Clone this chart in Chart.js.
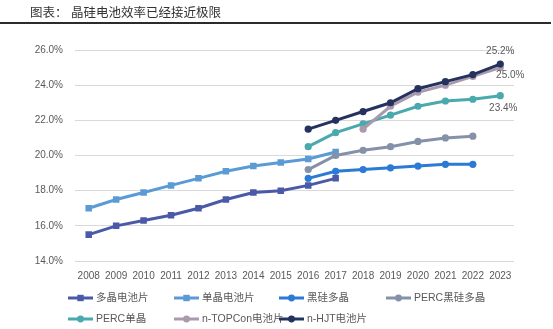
<!DOCTYPE html>
<html>
<head>
<meta charset="utf-8">
<script src="https://cdn.jsdelivr.net/npm/chart.js@4/dist/chart.umd.min.js"></script>
<style>
  html, body { margin: 0; padding: 0; background: #fff; }
  #wrap { width: 553px; height: 329px; position: relative; }
</style>
</head>
<body>
<div id="wrap"><canvas id="c" width="553" height="329"></canvas></div>
<script>
const TITLE = '图表： 晶硅电池效率已经接近极限';
const years = ['2008','2009','2010','2011','2012','2013','2014','2015','2016','2017','2018','2019','2020','2021','2022','2023'];
const yTicks = [14, 16, 18, 20, 22, 24, 26];

const polyCell   = [15.5, 16.0, 16.3, 16.6, 17.0, 17.5, 17.9, 18.0, 18.3, 18.7, null, null, null, null, null, null];
const monoCell   = [17.0, 17.5, 17.9, 18.3, 18.7, 19.1, 19.4, 19.6, 19.8, 20.2, null, null, null, null, null, null];
const blackPoly  = [null, null, null, null, null, null, null, null, 18.7, 19.1, 19.2, 19.3, 19.4, 19.5, 19.5, null];
const percBlack  = [null, null, null, null, null, null, null, null, 19.2, 20.0, 20.3, 20.5, 20.8, 21.0, 21.1, null];
const percMono   = [null, null, null, null, null, null, null, null, 20.5, 21.3, 21.8, 22.3, 22.8, 23.1, 23.2, 23.4];
const topcon     = [null, null, null, null, null, null, null, null, null, null, 21.5, 22.8, 23.6, 24.0, 24.5, 25.0];
const hjt        = [null, null, null, null, null, null, null, null, 21.5, 22.0, 22.5, 23.0, 23.8, 24.2, 24.6, 25.2];

const seriesNames = ['多晶电池片', '单晶电池片', '黑硅多晶', 'PERC黑硅多晶', 'PERC单晶', 'n-TOPCon电池片', 'n-HJT电池片'];
const seriesData = [polyCell, monoCell, blackPoly, percBlack, percMono, topcon, hjt];
const colors = ['#4a5aa6', '#5b9bd5', '#2a7ad6', '#8591a8', '#4aa9ad', '#a99aae', '#253260'];
const styles = ['rect', 'rect', 'circle', 'circle', 'circle', 'circle', 'circle'];
const endLabelPos = [null, null, null, null, 'below', 'rightBelow', 'above'];

const FONT_FAMILY = '"Liberation Sans", "Noto Sans CJK SC", sans-serif';
const CJK_FAMILY = '"Liberation Sans", "Noto Sans CJK SC", sans-serif';

const datasets = seriesData.map((d, i) => ({
  label: seriesNames[i],
  data: d,
  borderColor: colors[i],
  backgroundColor: colors[i],
  pointBackgroundColor: colors[i],
  pointBorderColor: colors[i],
  pointStyle: styles[i],
  pointRadius: styles[i] === 'rect' ? 4.6 : 3.6,
  pointBorderWidth: 0,
  borderWidth: 3,
  tension: 0,
  spanGaps: false,
  order: seriesData.length - i,
  endLabelPos: endLabelPos[i]
}));

const titlePlugin = {
  id: 'titleBar',
  afterDraw(chart) {
    const ctx = chart.ctx;
    ctx.save();
    ctx.fillStyle = '#333333';
    ctx.font = '12.5px ' + CJK_FAMILY;
    ctx.textBaseline = 'middle';
    ctx.textAlign = 'left';
    ctx.fillText(TITLE, 30, 13.5);
    ctx.strokeStyle = '#2b2b2b';
    ctx.lineWidth = 2;
    ctx.beginPath();
    ctx.moveTo(0, 23);
    ctx.lineTo(551, 23);
    ctx.stroke();
    ctx.restore();
  }
};

const endLabelPlugin = {
  id: 'endLabels',
  afterDatasetsDraw(chart) {
    const ctx = chart.ctx;
    ctx.save();
    ctx.font = '10px ' + FONT_FAMILY;
    ctx.fillStyle = '#595959';
    ctx.textAlign = 'center';
    ctx.textBaseline = 'middle';
    chart.data.datasets.forEach((ds, i) => {
      if (!ds.endLabelPos) return;
      const meta = chart.getDatasetMeta(i);
      let last = -1;
      ds.data.forEach((v, j) => { if (v !== null) last = j; });
      if (last < 0) return;
      const pt = meta.data[last];
      const txt = ds.data[last].toFixed(1) + '%';
      let x = pt.x, y = pt.y;
      if (ds.endLabelPos === 'above') { y -= 13; }
      else if (ds.endLabelPos === 'below') { x += 3; y += 13; }
      else if (ds.endLabelPos === 'rightBelow') { x += 10; y += 8; }
      ctx.fillText(txt, x, y);
    });
    ctx.restore();
  }
};

const legendPlugin = {
  id: 'gridLegend',
  afterDraw(chart) {
    const ctx = chart.ctx;
    const colX = [68, 174, 279, 386];
    const rowY = [298, 319];
    ctx.save();
    chart.data.datasets.forEach((ds, i) => {
      const col = i % 4, row = Math.floor(i / 4);
      const x = colX[col], y = rowY[row];
      ctx.strokeStyle = ds.borderColor;
      ctx.lineWidth = 3;
      ctx.beginPath();
      ctx.moveTo(x, y);
      ctx.lineTo(x + 25, y);
      ctx.stroke();
      ctx.fillStyle = ds.borderColor;
      const cx = x + 12.5;
      if (ds.pointStyle === 'rect') {
        ctx.fillRect(cx - 3.2, y - 3.2, 6.4, 6.4);
      } else {
        ctx.beginPath();
        ctx.arc(cx, y, 3.4, 0, Math.PI * 2);
        ctx.fill();
      }
      ctx.fillStyle = '#595959';
      ctx.font = '10.5px ' + CJK_FAMILY;
      ctx.textAlign = 'left';
      ctx.textBaseline = 'middle';
      ctx.fillText(ds.label, x + 28, y + 0.5);
    });
    ctx.restore();
  }
};

new Chart(document.getElementById('c'), {
  type: 'line',
  data: { labels: years, datasets },
  options: {
    responsive: false,
    animation: false,
    devicePixelRatio: 1,
    layout: { padding: { top: 50, right: 39, bottom: 46, left: 0 } },
    plugins: {
      legend: { display: false },
      title: { display: false },
      tooltip: { enabled: false }
    },
    scales: {
      x: {
        offset: true,
        grid: { display: false },
        border: { display: false },
        ticks: {
          color: '#595959',
          font: { size: 10, family: FONT_FAMILY },
          padding: 1,
          maxRotation: 0,
          autoSkip: false
        }
      },
      y: {
        min: yTicks[0],
        max: yTicks[yTicks.length - 1],
        afterFit(scale) { scale.width = 75; },
        afterBuildTicks(scale) { scale.ticks = yTicks.map(v => ({ value: v })); },
        grid: { color: '#d9d9d9', lineWidth: 1, drawTicks: false },
        border: { display: false },
        ticks: {
          color: '#595959',
          font: { size: 10, family: FONT_FAMILY },
          padding: 12,
          callback: v => Number(v).toFixed(1) + '%'
        }
      }
    }
  },
  plugins: [titlePlugin, endLabelPlugin, legendPlugin]
});
</script>
</body>
</html>
